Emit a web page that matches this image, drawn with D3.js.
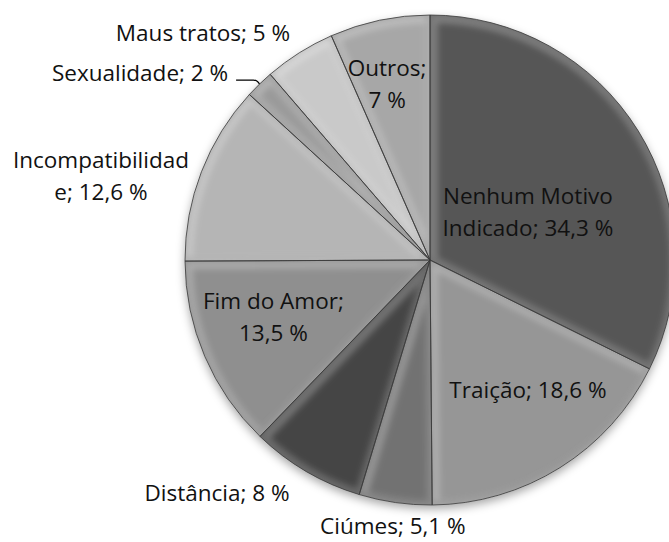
<!DOCTYPE html>
<html>
<head>
<meta charset="utf-8">
<script src="https://cdn.jsdelivr.net/npm/d3@7"></script>
<style>
  body { margin: 0; background: #fff; }
  svg { display: block; }
  .label { font-family: "Open Sans", Lato, sans-serif; font-size: 22.5px; fill: #111; }
</style>
</head>
<body>
<svg id="chart"></svg>
<script>
// Motivos do fim do namoro (%)
const categories = ['Nenhum Motivo Indicado', 'Traição', 'Ciúmes', 'Distância', 'Fim do Amor',
                    'Incompatibilidade', 'Sexualidade', 'Maus tratos', 'Outros'];
const values = [34.3, 18.6, 5.1, 8, 13.5, 12.6, 2, 5, 7];
const colors = ['#575757', '#969696', '#727272', '#444444', '#8f8f8f',
                '#b5b5b5', '#9a9a9a', '#c9c9c9', '#a7a7a7'];
// label text as it wraps in the original
const labelLines = [
    ['Nenhum Motivo', 'Indicado; {v} %'],
    ['Traição; {v} %'],
    ['Ciúmes; {v} %'],
    ['Distância; {v} %'],
    ['Fim do Amor;', '{v} %'],
    ['Incompatibilidad', 'e; {v} %'],
    ['Sexualidade; {v} %'],
    ['Maus tratos; {v} %'],
    ['Outros;', '{v} %']
];

const config = {
    width: 669,
    height: 542,
    cx: 430,
    cy: 260,
    radius: 245,
    lineHeight: 32,
    // label placement: radial factor and angle shift (deg) from slice middle
    labelPos: [
        {r: 0.445, da: 5.7},
        {r: 0.665, da: -4.9},
        {r: 1.097, da: -0.2},
        {r: 1.29, da: 12},
        {r: 0.68, da: 3.2},
        {r: 1.386, da: -6.8},
        {r: 1.408, da: -13.1},
        {r: 1.31, da: -12.8},
        {r: 0.74, da: -1.8}
    ]
};

const ptLocale = d3.formatLocale({decimal: ',', thousands: '.', grouping: [3], currency: ['', '']});
const fmt = ptLocale.format('~');

const svg = d3.select('#chart')
    .attr('width', config.width)
    .attr('height', config.height);

const defs = svg.append('defs');

const shadow = defs.append('filter').attr('id', 'shadow')
    .attr('x', '-10%').attr('y', '-10%').attr('width', '120%').attr('height', '125%');
shadow.append('feDropShadow')
    .attr('dx', 0).attr('dy', 4).attr('stdDeviation', 5)
    .attr('flood-color', '#000').attr('flood-opacity', 0.35);

const soft = defs.append('filter').attr('id', 'soft');
soft.append('feGaussianBlur').attr('stdDeviation', 3);

const pie = d3.pie().sort(null).value(d => d);
const arcs = pie(values);

const arc = d3.arc().innerRadius(0).outerRadius(config.radius);

const g = svg.append('g')
    .attr('transform', `translate(${config.cx},${config.cy})`);

// base slices with shadow
g.append('g').attr('filter', 'url(#shadow)')
    .selectAll('path')
    .data(arcs)
    .join('path')
    .attr('d', arc)
    .attr('fill', (d, i) => colors[i]);

// bevel highlight / shade, clipped to each slice
arcs.forEach((d, i) => {
    defs.append('clipPath').attr('id', `clip${i}`)
        .append('path').attr('d', arc(d));
    const sg = g.append('g').attr('clip-path', `url(#clip${i})`);
    sg.append('path')
        .attr('d', arc(d))
        .attr('fill', 'none')
        .attr('stroke', '#fff')
        .attr('stroke-opacity', 0.25)
        .attr('stroke-width', 12)
        .attr('transform', 'translate(1.5,2)')
        .attr('filter', 'url(#soft)');
    sg.append('path')
        .attr('d', arc(d))
        .attr('fill', 'none')
        .attr('stroke', '#000')
        .attr('stroke-opacity', 0.2)
        .attr('stroke-width', 3)
        .attr('transform', 'translate(-1,-1)')
        .attr('filter', 'url(#soft)');
});

// slice borders
g.append('g')
    .selectAll('path')
    .data(arcs)
    .join('path')
    .attr('d', arc)
    .attr('fill', 'none')
    .attr('stroke', '#3a3a3a')
    .attr('stroke-width', 0.8);

// labels
const toRad = Math.PI / 180;
const labelXY = (d, i) => {
    const p = config.labelPos[i];
    const a = (d.startAngle + d.endAngle) / 2 + p.da * toRad;
    const rr = p.r * config.radius;
    return [rr * Math.sin(a), -rr * Math.cos(a)];
};

const labels = g.append('g').selectAll('text')
    .data(arcs)
    .join('text')
    .attr('class', 'label')
    .attr('text-anchor', 'middle')
    .each(function (d, i) {
        const [x, y] = labelXY(d, i);
        const lines = labelLines[i].map(s => s.replace('{v}', fmt(values[i])));
        const y0 = y - (lines.length - 1) * config.lineHeight / 2;
        d3.select(this).selectAll('tspan')
            .data(lines)
            .join('tspan')
            .attr('x', x)
            .attr('y', (s, k) => y0 + k * config.lineHeight)
            .attr('dy', '0.35em')
            .text(s => s);
    });

// leader line for the small slice (Sexualidade)
const sIdx = categories.indexOf('Sexualidade');
const sArc = arcs[sIdx];
const sMid = (sArc.startAngle + sArc.endAngle) / 2;
const edge = [config.radius * Math.sin(sMid), -config.radius * Math.cos(sMid)];
const textEnd = labels.filter((d, i) => i === sIdx).node().getBBox();
const lx = textEnd.x + textEnd.width + 8;
const ly = edge[1] - 4;
g.append('path')
    .attr('d', `M${lx},${ly} L${edge[0] - 6},${ly} Q${edge[0] - 2},${ly} ${edge[0]},${edge[1]}`)
    .attr('fill', 'none')
    .attr('stroke', '#000')
    .attr('stroke-width', 1.2);
</script>
</body>
</html>
